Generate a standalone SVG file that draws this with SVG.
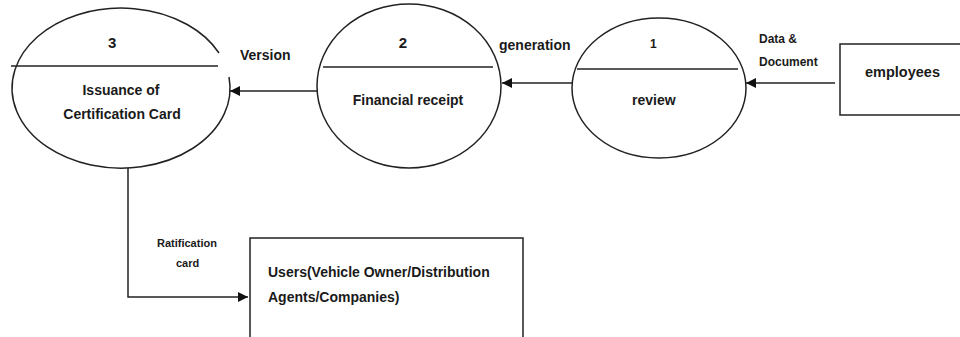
<svg xmlns="http://www.w3.org/2000/svg" width="960" height="337" viewBox="0 0 960 337">
<defs>
<marker id="arr" viewBox="0 0 10 10" refX="10" refY="5" markerWidth="10" markerHeight="10" markerUnits="userSpaceOnUse" orient="auto">
<path d="M0,0 L10,5 L0,10 z" fill="#111"/>
</marker>
<style>
.sh{fill:none;stroke:#222;stroke-width:1.5}
.ln{fill:none;stroke:#222;stroke-width:1.5}
.t{font-family:"Liberation Sans Narrow","Liberation Sans",Arial,sans-serif;fill:#1a1a1a;font-weight:bold}
.m{font-size:14px}
.s{font-size:12px}
.xs{font-size:11px}
</style>
</defs>
<rect width="960" height="337" fill="#fff"/>
<g id="node3">
<path class="sh" d="M219,53 A109,80 0 1 0 229,77"/>
<line class="ln" x1="11" y1="66" x2="218" y2="66"/>
<text class="t" x="108" y="48" style="font-size:15px">3</text>
<text class="t m" x="121" y="95" text-anchor="middle">Issuance of</text>
<text class="t m" x="122" y="119" text-anchor="middle">Certification Card</text>
</g>
<g id="node2">
<ellipse class="sh" cx="409" cy="86" rx="92" ry="82"/>
<line class="ln" x1="323" y1="67" x2="493" y2="67"/>
<text class="t" x="403" y="48" text-anchor="middle" style="font-size:15px">2</text>
<text class="t m" x="408" y="105" text-anchor="middle">Financial receipt</text>
</g>
<g id="node1">
<ellipse class="sh" cx="659" cy="88" rx="87" ry="70"/>
<line class="ln" x1="577" y1="69" x2="738" y2="69"/>
<text class="t s" x="650" y="48">1</text>
<text class="t m" x="632" y="105">review</text>
</g>
<g id="employees">
<rect class="sh" x="840" y="44" width="130" height="71"/>
<text class="t m" x="865" y="77" style="font-size:14.5px">employees</text>
</g>
<g id="users">
<rect class="sh" x="250" y="238" width="273" height="110"/>
<text class="t m" x="268" y="277">Users(Vehicle Owner/Distribution</text>
<text class="t m" x="268" y="302">Agents/Companies)</text>
</g>
<g id="connectors">
<line class="ln" x1="835" y1="83" x2="746" y2="83" marker-end="url(#arr)"/>
<line class="ln" x1="572" y1="83" x2="502" y2="83" marker-end="url(#arr)"/>
<line class="ln" x1="317" y1="91" x2="230" y2="91" marker-end="url(#arr)"/>
<polyline class="ln" points="128,168 128,297 248,297" marker-end="url(#arr)"/>
<text class="t s" x="759" y="43">Data &amp;</text>
<text class="t s" x="759" y="66">Document</text>
<text class="t m" x="499" y="50">generation</text>
<text class="t m" x="240" y="60">Version</text>
<text class="t xs" x="157" y="247">Ratification</text>
<text class="t xs" x="176" y="267">card</text>
</g>
</svg>
